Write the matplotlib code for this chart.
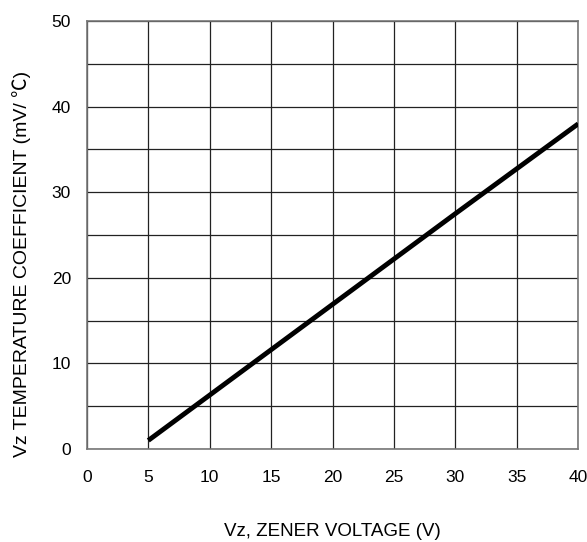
import matplotlib
matplotlib.use('Agg')
import matplotlib.pyplot as plt

# values
vz = [5, 10, 20, 30, 40]
tc = [1.0, 6.3, 16.9, 27.5, 38.0]
x_ticks = [0, 5, 10, 15, 20, 25, 30, 35, 40]
y_ticks = [0, 10, 20, 30, 40, 50]
y_minor = [5, 15, 25, 35, 45]

plt.rcParams['font.family'] = ['Liberation Sans', 'DejaVu Sans']

fig = plt.figure(figsize=(5.87, 5.42), dpi=100)
ax = fig.add_axes([0.148, 0.1716, 0.837, 0.7894])

ax.plot(vz, tc, color='black', lw=3.5, solid_capstyle='butt', zorder=3)

ax.set_xlim(0, 40)
ax.set_ylim(0, 50)
ax.set_xticks(x_ticks)
ax.set_yticks(y_ticks)
ax.set_yticks(y_minor, minor=True)
ax.grid(True, which='both', color='#222222', lw=0.9)
ax.tick_params(which='both', length=0, labelsize=12.5, colors='black')
ax.tick_params(axis='x', pad=15)
ax.tick_params(axis='y', pad=11.5)
for s in ax.spines.values():
    s.set_color('#777777')
    s.set_linewidth(1.2)

ax.set_xlabel('Vz, ZENER VOLTAGE (V)', fontsize=13.5)
ax.xaxis.set_label_coords(0.5, -74 / 428)
ax.set_ylabel('Vz TEMPERATURE COEFFICIENT (mV/ \u2103)', fontsize=14,
              family=['Liberation Sans', 'Noto Sans CJK JP'])
ax.yaxis.set_label_coords(-56 / 491, 0.433)

fig.savefig('out.png', dpi=100)
